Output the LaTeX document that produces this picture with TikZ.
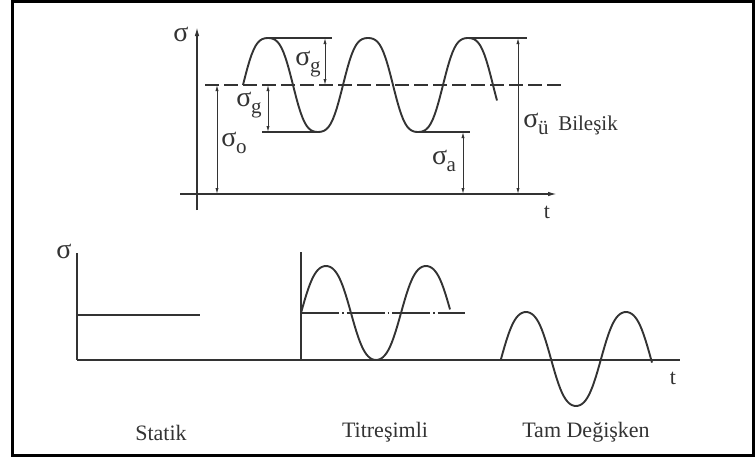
\documentclass[tikz,border=0pt]{standalone}
\usepackage{fontspec}
\setmainfont{Liberation Serif}
\usetikzlibrary{arrows.meta}
\definecolor{ink}{HTML}{333333}
\newcommand{\sig}[1]{σ\kern-0.5pt\raisebox{-0.6ex}{\fontsize{21}{21}\selectfont #1}}
\tikzset{
  axis/.style={draw=ink,line width=1.4pt},
  wave/.style={draw=ink,line width=1.9pt,line join=round},
  guide/.style={draw=ink,line width=1.1pt},
  dim/.style={draw=ink,line width=0.9pt,{Latex[length=6pt,width=3.2pt]}-{Latex[length=6pt,width=3.2pt]}},
  lab/.style={inner sep=0pt,text=ink,font=\fontsize{22}{24}\selectfont},
  siglab/.style={inner sep=0pt,text=ink,font=\fontsize{28}{30}\selectfont},
}
\begin{document}
\begin{tikzpicture}[x=1pt,y=-1pt,>={Latex[length=9pt,width=4.5pt]}]
\useasboundingbox (0,0) rectangle (756,458);
\draw[line width=3pt] (12.5,1.5) rectangle (753,455);

% upper plot: axes, y grows downwards in pixel units
\coordinate (o) at (197,194);
\coordinate (sTop) at (197,27);
\coordinate (sBot) at (197,210);
\coordinate (tLeft) at (180,194);
\coordinate (tEnd) at (557,194);
\draw[axis,->] (sBot)--(sTop);
\draw[axis,->] (tLeft)--(tEnd);
\node[siglab] (sigAx) at (181,34) {σ};
\node[lab] (tAx) at (547,212) {t};

% mean stress and the wave around it (mean 85, amplitude 47, flattened tops)
\coordinate (mL) at (205,85);
\coordinate (mR) at (565,85);
\draw[guide,dash pattern=on 14pt off 5pt] (mL)--(mR);
\draw[wave] plot[domain=243:497,samples=120]
  (\x,{85-47*(sin((\x-243)*3.6)+0.08*sin((\x-243)*10.8))/0.92});

% level lines at peak and trough
\draw[guide] (268,38)--(332,38);
\draw[guide] (262,132)--(318,132);
\draw[guide] (418,132)--(470,132);
\draw[guide] (468,38)--(527,38);

% dimension arrows
\coordinate (oTop) at (217,85);   \coordinate (oBot) at (217,194);
\coordinate (gLoT) at (268,85);   \coordinate (gLoB) at (268,132);
\coordinate (gUpT) at (325,38);   \coordinate (gUpB) at (325,85);
\coordinate (aTop) at (463,132);  \coordinate (aBot) at (463,194);
\coordinate (uTop) at (518,38);   \coordinate (uBot) at (518,194);
\draw[dim] (oTop)--(oBot);
\draw[dim] (gLoT)--(gLoB);
\draw[dim] (gUpT)--(gUpB);
\draw[dim] (aTop)--(aBot);
\draw[dim] (uTop)--(uBot);
\node[siglab] (sigO) at (234,143) {\sig{o}};
\node[siglab] (sigGlo) at (249,105) {\sig{g}};
\node[siglab] (sigGup) at (308,64) {\sig{g}};
\node[siglab] (sigA) at (444,161) {\sig{a}};
\node[siglab] (sigU) at (536,124) {\sig{ü}};
\node[lab,font=\fontsize{21}{23}\selectfont] (bilesik) at (588,125) {Bileşik};

% lower row: one common time axis
\coordinate (bL) at (77,360);
\coordinate (bR) at (680,360);
\draw[axis] (bL)--(bR);
\node[siglab] (sigAx2) at (64,251) {σ};
\node[lab] (tAx2) at (673,378) {t};

% static
\coordinate (stTop) at (77,253);
\draw[axis] (stTop)--(bL);
\draw[wave,line width=1.6pt] (77,315)--(200,315);

% pulsating
\coordinate (tiTop) at (301,252);
\coordinate (tiBot) at (301,360);
\draw[axis] (tiTop)--(tiBot);
\draw[guide,dash pattern=on 38pt off 3pt on 1.5pt off 3pt] (301,313)--(465,313);
\draw[wave] plot[domain=301:450,samples=90]
  (\x,{313-47*(sin((\x-301)*3.6)+0.05*sin((\x-301)*10.8))/0.95});

% fully reversed
\draw[wave] plot[domain=501:652,samples=90]
  (\x,{359-47*(sin((\x-501)*3.6)+0.05*sin((\x-501)*10.8))/0.95});

\node[lab] (statik) at (161,433) {Statik};
\node[lab] (titre) at (385,432) {Titreşimli};
\node[lab] (tam) at (586,432) {Tam Değişken};
\end{tikzpicture}
\end{document}
